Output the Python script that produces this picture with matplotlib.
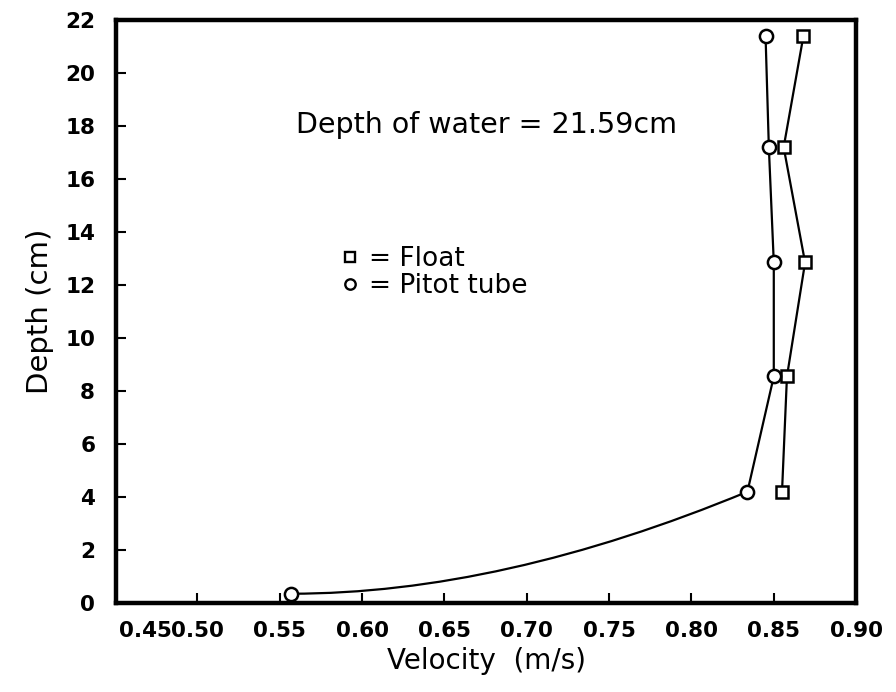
import matplotlib.pyplot as plt
from matplotlib.path import Path
from matplotlib.patches import PathPatch
from matplotlib.lines import Line2D

# Data (depth in cm, velocity in m/s)
depth_float = [21.4, 17.2, 12.85, 8.55, 4.2]
vel_float = [0.868, 0.856, 0.869, 0.858, 0.855]

depth_pitot = [0.35, 4.2, 8.55, 12.85, 17.2, 21.4]
vel_pitot = [0.557, 0.834, 0.850, 0.850, 0.847, 0.845]

x_ticks = [0.50, 0.55, 0.60, 0.65, 0.70, 0.75, 0.80, 0.85, 0.90]
x_labels = ['0.50', '0.55', '0.60', '0.65', '0.70', '0.75', '0.80', '0.85', '0.90']
x_first_label = '0.45'
y_ticks = [0, 2, 4, 6, 8, 10, 12, 14, 16, 18, 20, 22]

plt.rcParams['font.family'] = ['DejaVu Sans']

fig = plt.figure(figsize=(8.96, 6.92), dpi=100)
ax = fig.add_axes([0.1295, 0.1286, 0.826, 0.8425])

# Float: straight segments
ax.plot(vel_float, depth_float, color='black', lw=1.6, marker='s', ms=9,
        mfc='white', mec='black', mew=1.8, zorder=3)

# Pitot tube: curved lowest segment, then straight segments
bend = 0.46
verts = [(vel_pitot[0], depth_pitot[0]),
         (vel_pitot[0] + bend * (vel_pitot[1] - vel_pitot[0]), depth_pitot[0]),
         (vel_pitot[1], depth_pitot[1])]
codes = [Path.MOVETO, Path.CURVE3, Path.CURVE3]
for v, d in zip(vel_pitot[2:], depth_pitot[2:]):
    verts.append((v, d))
    codes.append(Path.LINETO)
ax.add_patch(PathPatch(Path(verts, codes), fill=False, lw=1.6, edgecolor='black', zorder=2))
ax.plot(vel_pitot, depth_pitot, ls='none', marker='o', ms=9.5,
        mfc='white', mec='black', mew=1.8, zorder=3)

ax.set_xlim(0.4506, 0.90)
ax.set_ylim(0, 22)
ax.set_xticks(x_ticks)
ax.set_xticklabels(x_labels)
ax.set_yticks(y_ticks)
ax.tick_params(direction='in', length=7, width=1.5, labelsize=15.5, pad=13)
ax.tick_params(axis='y', pad=15)
for lab in ax.get_xticklabels() + ax.get_yticklabels():
    lab.set_fontweight('bold')
for sp in ax.spines.values():
    sp.set_linewidth(3.2)

# the 0.45 label sits just left of 0.50 in the original
ax.annotate(x_first_label, xy=(x_ticks[0], 0), xycoords=('data', 'axes fraction'),
            xytext=(-18.5, -13), textcoords='offset points', ha='right', va='top',
            fontsize=15.5, fontweight='bold')

ax.set_xlabel('Velocity  (m/s)', fontsize=20, labelpad=4)
ax.set_ylabel('Depth (cm)', fontsize=21, labelpad=8)

ax.text(0.5, 0.82, 'Depth of water = 21.59cm', transform=ax.transAxes,
        ha='center', va='center', fontsize=20.5)

handles = [Line2D([], [], ls='none', marker='s', ms=7.5, mfc='white', mec='black', mew=1.7),
           Line2D([], [], ls='none', marker='o', ms=7.5, mfc='white', mec='black', mew=1.7)]
ax.legend(handles, ['= Float', '= Pitot tube'], loc='upper left',
          bbox_to_anchor=(0.288, 0.635), frameon=False, fontsize=19,
          handlelength=0.6, handletextpad=0.4, labelspacing=0.05, borderpad=0)

fig.savefig('out.png', dpi=100)
